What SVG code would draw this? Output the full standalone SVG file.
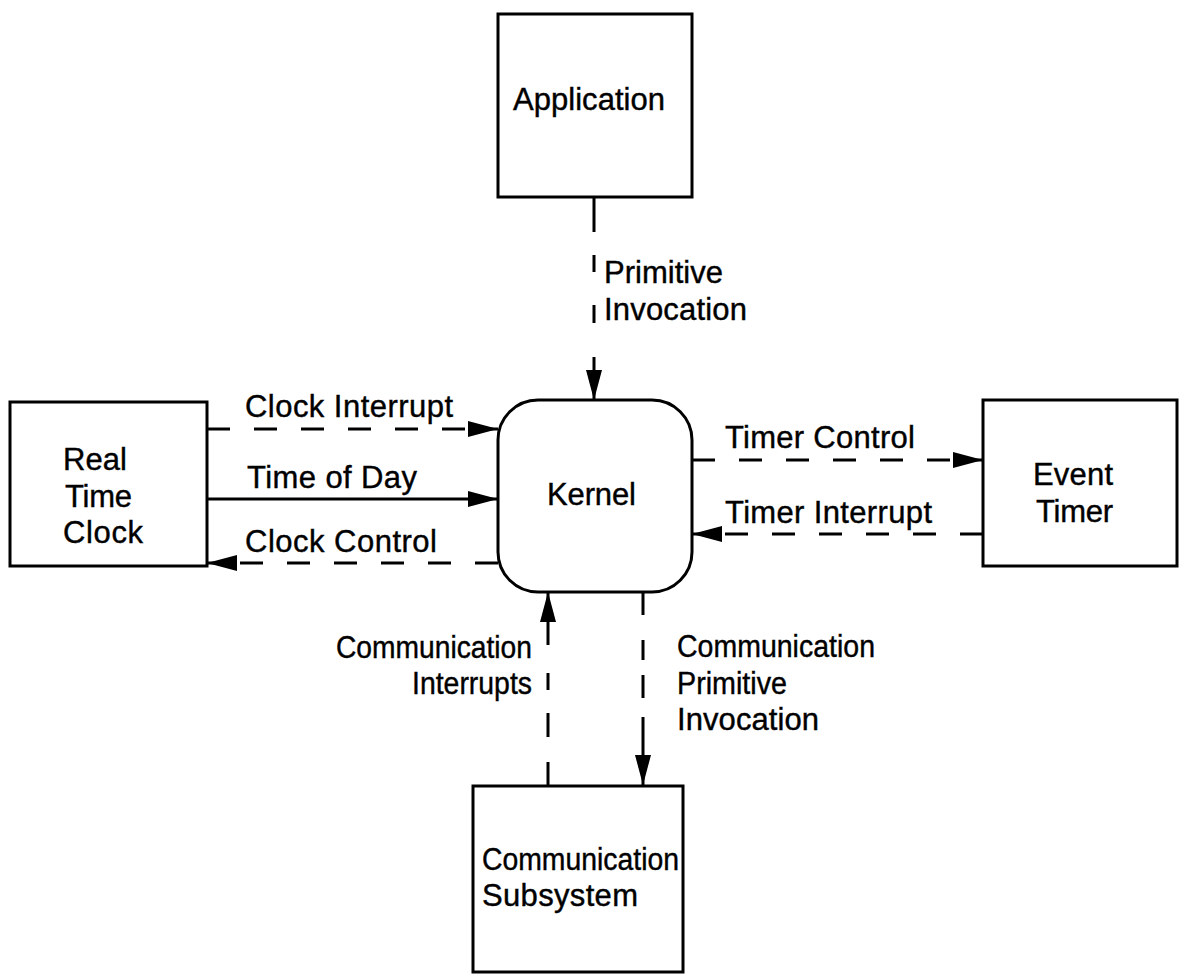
<svg xmlns="http://www.w3.org/2000/svg" width="1182" height="974" viewBox="0 0 1182 974">
  <style>
    .box { fill: #fff; stroke: #000; stroke-width: 3; }
    .lbl { font-family: "Liberation Sans", Arial, Helvetica, sans-serif; font-size: 31px; fill: #000; stroke: #000; stroke-width: 0.4; }
    .flow { fill: none; stroke: #000; stroke-width: 3; }
    .dash { stroke-dasharray: 23 24; }
  </style>
  <defs>
    <marker id="head" markerUnits="userSpaceOnUse" markerWidth="32" markerHeight="18" refX="30" refY="8" orient="auto">
      <path d="M0,0 L30,8 L0,16 Z" fill="#000"/>
    </marker>
  </defs>
  <rect width="1182" height="974" fill="#fff"/>

  <!-- connectors -->
  <g id="connectors">
    <!-- Application -> Kernel -->
    <path class="flow" d="M594 197V232M594 255V272M594 305V323M594 357V400" marker-end="url(#head)"/>
    <!-- Real Time Clock <-> Kernel -->
    <path class="flow dash" d="M207 429H498" marker-end="url(#head)"/>
    <path class="flow" d="M207 499H498" marker-end="url(#head)"/>
    <path class="flow dash" d="M498 563H207" marker-end="url(#head)"/>
    <!-- Kernel <-> Event Timer -->
    <path class="flow dash" d="M692 460H983" marker-end="url(#head)"/>
    <path class="flow dash" d="M983 534H692" marker-end="url(#head)"/>
    <!-- Communication Subsystem <-> Kernel -->
    <path class="flow" d="M548 785V762M548 737V713M548 690V673M548 645V592" marker-end="url(#head)"/>
    <path class="flow" d="M643 592V615M643 640V660M643 675V698M643 717V785" marker-end="url(#head)"/>
  </g>

  <!-- connector labels -->
  <g id="labels">
    <text class="lbl" x="604" y="283" textLength="119" lengthAdjust="spacing">Primitive</text>
    <text class="lbl" x="604" y="320" textLength="143" lengthAdjust="spacing">Invocation</text>
    <text class="lbl" x="245" y="417" textLength="208" lengthAdjust="spacing">Clock Interrupt</text>
    <text class="lbl" x="247" y="488" textLength="170" lengthAdjust="spacing">Time of Day</text>
    <text class="lbl" x="245" y="552" textLength="192" lengthAdjust="spacing">Clock Control</text>
    <text class="lbl" x="725" y="448" textLength="190" lengthAdjust="spacing">Timer Control</text>
    <text class="lbl" x="725" y="523" textLength="207" lengthAdjust="spacing">Timer Interrupt</text>
    <text class="lbl" x="336" y="658" textLength="196" lengthAdjust="spacingAndGlyphs">Communication</text>
    <text class="lbl" x="412" y="694" textLength="120" lengthAdjust="spacingAndGlyphs">Interrupts</text>
    <text class="lbl" x="677" y="657" textLength="198" lengthAdjust="spacingAndGlyphs">Communication</text>
    <text class="lbl" x="677" y="694" textLength="110" lengthAdjust="spacingAndGlyphs">Primitive</text>
    <text class="lbl" x="677" y="730" textLength="142" lengthAdjust="spacing">Invocation</text>
  </g>

  <!-- nodes -->
  <g id="application">
    <rect class="box" x="498" y="14" width="194" height="183"/>
    <text class="lbl" x="513" y="110" textLength="152" lengthAdjust="spacing">Application</text>
  </g>
  <g id="kernel">
    <rect class="box" x="498" y="400" width="194" height="192" rx="40" ry="40"/>
    <text class="lbl" x="547" y="505" textLength="89" lengthAdjust="spacing">Kernel</text>
  </g>
  <g id="real-time-clock">
    <rect class="box" x="10" y="402" width="197" height="164"/>
    <text class="lbl" x="63" y="470" textLength="64" lengthAdjust="spacing">Real</text>
    <text class="lbl" x="65" y="507" textLength="67" lengthAdjust="spacing">Time</text>
    <text class="lbl" x="63" y="543" textLength="80" lengthAdjust="spacing">Clock</text>
  </g>
  <g id="event-timer">
    <rect class="box" x="983" y="400" width="194" height="166"/>
    <text class="lbl" x="1033" y="485" textLength="80" lengthAdjust="spacing">Event</text>
    <text class="lbl" x="1036" y="522" textLength="77" lengthAdjust="spacing">Timer</text>
  </g>
  <g id="communication-subsystem">
    <rect class="box" x="473" y="786" width="210" height="186"/>
    <text class="lbl" x="482" y="870" textLength="197" lengthAdjust="spacingAndGlyphs">Communication</text>
    <text class="lbl" x="482" y="906" textLength="156" lengthAdjust="spacing">Subsystem</text>
  </g>
</svg>
